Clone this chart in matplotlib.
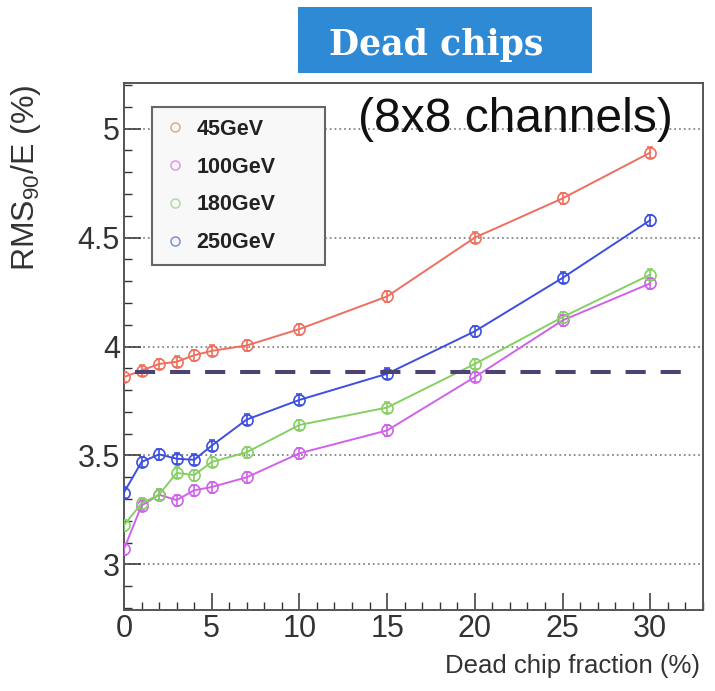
import matplotlib
matplotlib.use("Agg")
import matplotlib.pyplot as plt
from matplotlib.lines import Line2D
from matplotlib.patches import Rectangle
from matplotlib.ticker import MultipleLocator

# Data
fractions = [0, 1, 2, 3, 4, 5, 7, 10, 15, 20, 25, 30]
rms_45 = [3.86, 3.89, 3.92, 3.93, 3.96, 3.98, 4.005, 4.08, 4.23, 4.50, 4.68, 4.89]
rms_100 = [3.07, 3.27, 3.32, 3.295, 3.34, 3.355, 3.40, 3.51, 3.615, 3.86, 4.12, 4.29]
rms_180 = [3.18, 3.28, 3.32, 3.42, 3.41, 3.47, 3.515, 3.64, 3.72, 3.92, 4.135, 4.33]
rms_250 = [3.33, 3.47, 3.505, 3.485, 3.48, 3.545, 3.665, 3.755, 3.875, 4.07, 4.315, 4.58]
labels = ["45GeV", "100GeV", "180GeV", "250GeV"]
colors = ["#ee6f5e", "#cf62ea", "#86cf63", "#3d4fe0"]
reference_level = 3.885

plt.rcParams["font.family"] = ["Liberation Sans", "DejaVu Sans"]
plt.rcParams["mathtext.fontset"] = "custom"
plt.rcParams["mathtext.rm"] = "Liberation Sans"

fig = plt.figure(figsize=(7.15, 6.91), dpi=100)
fig.patch.set_facecolor("white")
ax = fig.add_axes([0.1734, 0.117, 0.8096, 0.763])

series = [rms_45, rms_100, rms_180, rms_250]
for vals, col in zip(series, colors):
    ax.errorbar(
        fractions,
        vals,
        yerr=0.025,
        color=col,
        linewidth=1.4,
        marker="o",
        markersize=8,
        markerfacecolor="none",
        markeredgewidth=1.2,
        elinewidth=1.2,
        capsize=2,
        zorder=3,
    )

# Reference level (dashed)
ax.plot(
    [0.6, 31.9],
    [reference_level, reference_level],
    color="#4d4272",
    linewidth=2.9,
    dashes=(5, 3.7),
    zorder=4,
)

ax.set_xlim(0, 33)
ax.set_ylim(2.79, 5.21)
ax.xaxis.set_major_locator(MultipleLocator(5))
ax.xaxis.set_minor_locator(MultipleLocator(1))
ax.yaxis.set_minor_locator(MultipleLocator(0.1))
ax.set_yticks([3, 3.5, 4, 4.5, 5])
ax.set_yticklabels(["3", "3.5", "4", "4.5", "5"])
ax.tick_params(axis="both", which="both", direction="in", colors="#333333")
ax.tick_params(axis="both", which="major", length=12, width=1.1, labelsize=22,
               labelcolor="#333333", pad=3)
ax.tick_params(axis="both", which="minor", length=6, width=1.0)

ax.grid(axis="y", which="major", color="#888888", linestyle=":", linewidth=1.3)
for spine in ax.spines.values():
    spine.set_color("#555555")
    spine.set_linewidth(1.4)

ax.set_ylabel(r"RMS$_{\mathregular{90}}$/E (%)", fontsize=23, color="#333333")
ax.yaxis.set_label_coords(-0.14, 0.82)
fig.text(700 / 715, 1 - 666 / 691, "Dead chip fraction (%)", fontsize=18.5,
         color="#333333", ha="right", va="center")

# Legend
handles = [
    Line2D([], [], linestyle="none", marker="o", markersize=6.5, markerfacecolor="none",
           markeredgecolor=c, markeredgewidth=1.1, alpha=0.65)
    for c in colors
]
leg = ax.legend(
    handles,
    labels,
    loc="upper left",
    bbox_to_anchor=(0.0484, 0.8545, 0.299, 0.1),
    mode="expand",
    frameon=True,
    fancybox=False,
    edgecolor="#666666",
    facecolor="#f8f8f8",
    framealpha=1,
    prop={"weight": "bold", "size": 15.5},
    labelspacing=0.78,
    handletextpad=0.5,
    borderpad=0.55,
    borderaxespad=0,
    handlelength=1.0,
)
leg.get_frame().set_linewidth(1.5)
for t in leg.get_texts():
    t.set_color("#222222")

# Title box
fig.patches.append(
    Rectangle((298 / 715, 1 - 73 / 691), 294 / 715, 66 / 691,
              transform=fig.transFigure, facecolor="#2f8ad6", edgecolor="none", zorder=5)
)
fig.text(436 / 715, 1 - 55 / 691, "Dead chips", fontsize=25, fontweight="bold",
         family="DejaVu Serif", color="white", ha="center", va="baseline", zorder=6)
fig.text(515 / 715, 1 - 132 / 691, "(8x8 channels)", fontsize=34.5, color="#111111",
         ha="center", va="baseline", zorder=6)

fig.savefig("out.png", dpi=100, facecolor="white")
